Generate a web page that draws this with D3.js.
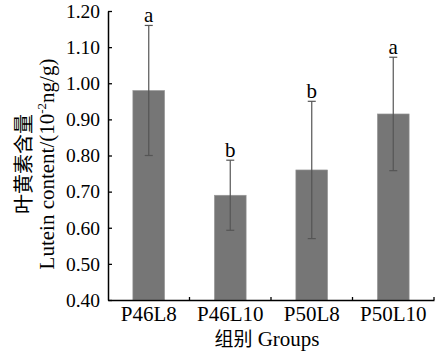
<!DOCTYPE html>
<html><head><meta charset="utf-8">
<script src="https://cdn.jsdelivr.net/npm/d3@7"></script>
<style>body{margin:0;background:#fff}svg{display:block}</style>
</head><body>
<script>
const categories = ["P46L8","P46L10","P50L8","P50L10"];
const values = [0.98, 0.69, 0.76, 0.915];
const errors = [0.18, 0.097, 0.19, 0.157];
const letters = ["a","b","b","a"];
const yTicks = [0.40,0.50,0.60,0.70,0.80,0.90,1.00,1.10,1.20];

const W=438,H=358;
const svg=d3.select("body").append("svg").attr("width",W).attr("height",H);
const serif="'Liberation Serif','Times New Roman',serif";
const x=d3.scaleBand().domain(categories).range([108,434]).paddingInner(0.61).paddingOuter(0.305);
const y=d3.scaleLinear().domain([0.4,1.2]).range([300,11]);

// bars
svg.selectAll("rect.bar").data(categories).enter().append("rect")
 .attr("x",d=>x(d)).attr("width",x.bandwidth())
 .attr("y",(d,i)=>y(values[i])).attr("height",(d,i)=>y(0.4)-y(values[i]))
 .attr("fill","#767676").attr("stroke","#9a9a9a").attr("stroke-width",0.6);

// error bars
const g=svg.append("g").attr("stroke","#555").attr("stroke-width",1.2);
categories.forEach((c,i)=>{
  const cx=x(c)+x.bandwidth()/2;
  const hi=y(values[i]+errors[i]), lo=y(values[i]-errors[i]);
  g.append("line").attr("x1",cx).attr("x2",cx).attr("y1",hi).attr("y2",lo);
  g.append("line").attr("x1",cx-4).attr("x2",cx+4).attr("y1",hi).attr("y2",hi);
  g.append("line").attr("x1",cx-4).attr("x2",cx+4).attr("y1",lo).attr("y2",lo);
  svg.append("text").attr("x",cx).attr("y",hi-3).attr("text-anchor","middle")
   .attr("font-family",serif).attr("font-size",21).attr("fill","#000").text(letters[i]);
});

// y axis
const ya=svg.append("g").attr("transform","translate(108,0)")
 .call(d3.axisLeft(y).tickValues(yTicks).tickFormat(d3.format(".2f")).tickSizeInner(-4).tickSizeOuter(0).tickPadding(8));
ya.select(".domain").attr("stroke","#000").attr("stroke-width",1.5);
ya.selectAll(".tick line").attr("stroke","#000").attr("stroke-width",1.3);
ya.selectAll(".tick text").attr("font-family",serif).attr("font-size",19.5).attr("fill","#000");

// x axis
const xa=svg.append("g").attr("transform","translate(0,300)")
 .call(d3.axisBottom(x).tickSize(0).tickPadding(6));
xa.select(".domain").attr("stroke","#000").attr("stroke-width",1.5);
xa.selectAll(".tick text").attr("font-family",serif).attr("font-size",21).attr("fill","#000");
// small boundary ticks
[1,2,3,4].forEach(k=>{
  const bx=108+k*(434-108)/4;
  svg.append("line").attr("x1",bx).attr("x2",bx).attr("y1",300).attr("y2",297).attr("stroke","#000").attr("stroke-width",1.3);
});

// axis titles
svg.append("text").attr("x",267).attr("y",346).attr("text-anchor","middle")
 .attr("font-size",21).attr("fill","#000")
 .html("<tspan font-family=\"'Noto Sans CJK SC',sans-serif\" font-size='19'>组别</tspan><tspan font-family=\"'Liberation Serif',serif\"> Groups</tspan>");

const yl=svg.append("g").attr("transform","translate(0,164) rotate(-90)");
yl.append("text").attr("x",0).attr("y",31).attr("text-anchor","middle")
 .attr("font-family","'Noto Sans CJK SC',sans-serif").attr("font-size",20).attr("fill","#000").text("叶黄素含量");
yl.append("text").attr("x",0).attr("y",54).attr("text-anchor","middle")
 .attr("font-family",serif).attr("font-size",21).attr("fill","#000")
 .html("Lutein content/(10<tspan font-size='13' dy='-8'>-2</tspan><tspan dy='8'>ng/g)</tspan>");
</script>
</body></html>
